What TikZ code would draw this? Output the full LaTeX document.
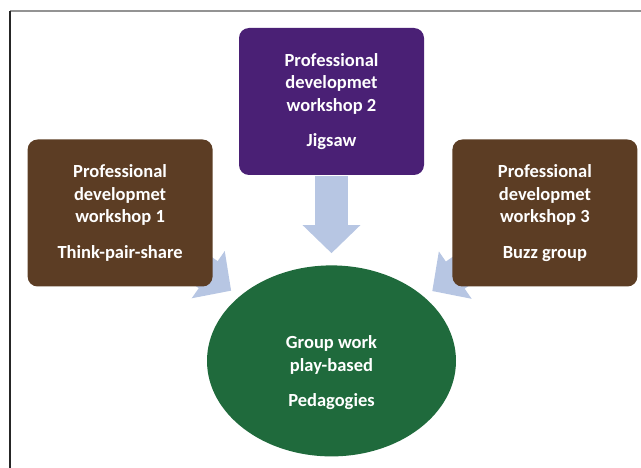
\documentclass[tikz,border=0pt]{standalone}
\usepackage{fontspec}
\setmainfont{Carlito}
\usetikzlibrary{arrows.meta,positioning,shapes.geometric,backgrounds}
\definecolor{soil}{RGB}{92,61,36}
\definecolor{grape}{RGB}{74,32,117}
\definecolor{moss}{RGB}{31,106,60}
\definecolor{paleblue}{RGB}{183,198,227}

\begin{document}
\begin{tikzpicture}[x=1pt, y=-1pt, auto, node distance=3cm]
\tikzstyle{wsbox}=[rectangle,rounded corners=10pt,draw=none,text=white,align=center,minimum width=185pt,minimum height=147pt,inner sep=0pt,font=\bfseries\fontsize{18.5}{22.5}\selectfont]
\tikzstyle{grpellipse}=[ellipse,fill=moss,draw=none,minimum width=249pt,minimum height=191pt,inner sep=0pt]
\tikzstyle{lbl}=[text=white,align=center,font=\bfseries\fontsize{18.5}{22.5}\selectfont]
\tikzstyle{fatarrow}=[draw=paleblue,line width=33pt,-{Triangle[length=28pt,width=56pt,fill=paleblue]}]
\useasboundingbox (0,0) rectangle (641,468);
% frame
\draw[gray!85,line width=1.3pt] (10,11) -- (641,11);
\draw[black!85,line width=1.3pt] (10,11) -- (10,468);
\node[wsbox,fill=grape] (ws2) at (331.5,101.5) {Professional\\developmet\\workshop 2\\[13pt]Jigsaw};
\node[wsbox,fill=soil]  (ws1) [left=26pt of ws2, yshift=-111.5pt] {Professional\\developmet\\workshop 1\\[13pt]Think-pair-share};
\node[wsbox,fill=soil]  (ws3) [right=28pt of ws2, yshift=-111.5pt] {Professional\\developmet\\workshop 3\\[13pt]Buzz group};
\node[grpellipse] (circ) [below=90pt of ws2] {};
\node[lbl] (circtxt) at ([yshift=-12pt]circ.center) {Group work\\play-based\\[13pt]Pedagogies};
\begin{scope}[on background layer]
\path
(ws1.center) edge[fatarrow, shorten >=10pt] (circ)
(ws3.center) edge[fatarrow, shorten >=10pt] (circ);
\end{scope}
\path
(ws2.south) edge[fatarrow, shorten <=1pt, shorten >=12pt] (circ.north)
;
\end{tikzpicture}
\end{document}
